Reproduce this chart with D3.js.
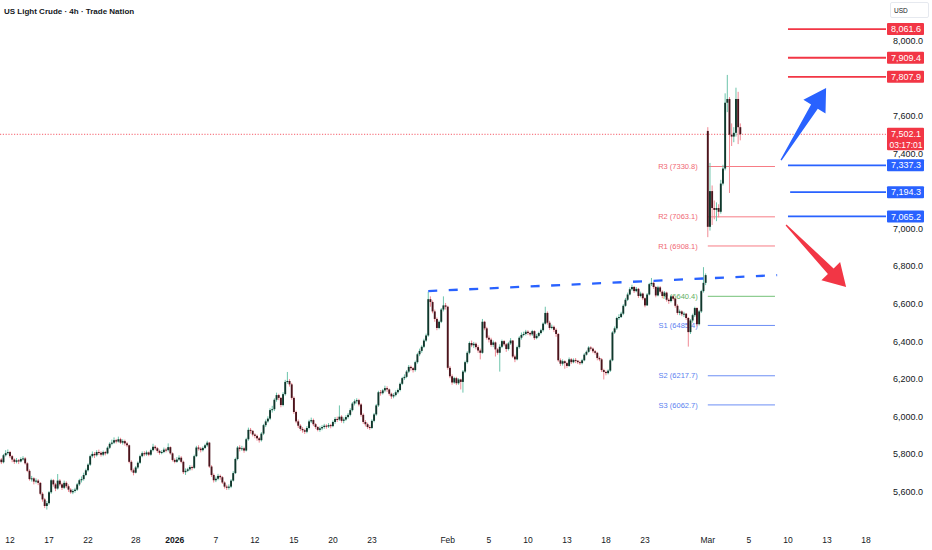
<!DOCTYPE html>
<html>
<head>
<meta charset="utf-8">
<script src="https://cdn.jsdelivr.net/npm/d3@7"></script>
<style>
  html, body { margin: 0; padding: 0; background: #fff; }
  svg { display: block; font-family: "Liberation Sans", Arial, sans-serif; }
</style>
</head>
<body>
<div id="chart"></div>
<script>
// 4h candles, one row per bar: [close, high, low] ; open = previous close,
// a 4th value is the open when the bar gaps
const dec = [
  [5760,5774,5741,5750],[5772,5785,5752],[5758,5780,5748],[5795,5802,5752],[5806,5822,5788],[5812,5826,5798],
  [5790,5818,5780],[5772,5796,5758],[5760,5778,5749],[5768,5780,5752],[5762,5775,5748],
  [5775,5784,5757],
  [5778,5790,5766],[5752,5785,5745],[5712,5758,5705],[5668,5720,5660],[5672,5685,5655],[5655,5678,5640],
  [5660,5672,5645],[5648,5668,5636],[5590,5652,5582],[5560,5598,5548],[5525,5568,5514],[5540,5552,5506],
  [5598,5605,5532],[5662,5670,5590],[5640,5668,5628],[5618,5648,5604],[5660,5695,5612],[5640,5668,5630],
  [5622,5648,5610],[5648,5660,5615],[5630,5656,5620],[5612,5640,5600],[5598,5620,5590],[5605,5615,5588],
  [5612,5622,5596],[5640,5648,5605],[5662,5670,5632],[5668,5682,5650],[5690,5702,5660],
  [5715,5724,5684],
  [5745,5752,5708],[5790,5798,5738],[5802,5815,5782],[5795,5812,5780],[5812,5822,5788],[5808,5825,5796],
  [5798,5816,5788],[5812,5820,5790],[5805,5818,5794],[5835,5842,5800],[5856,5864,5828],[5862,5878,5848],
  [5875,5890,5855],[5868,5882,5858],[5880,5894,5862],[5862,5888,5855],[5870,5880,5852],
  [5858,5878,5846],[5848,5866,5838],[5760,5852,5752],[5715,5768,5705],[5702,5724,5688],
  [5730,5738,5698],
  [5755,5762,5722],[5790,5798,5748],[5806,5815,5784],[5800,5816,5790],[5810,5820,5792],[5798,5815,5790],
  [5822,5830,5792],[5840,5856,5815],[5832,5848,5822],[5818,5838,5808],[5808,5825,5798],[5812,5822,5800],
  [5825,5836,5806],[5822,5834,5810],[5838,5858,5815],[5805,5842,5798],[5770,5810,5762]
];
const jan = [
  [5760,5778,5752],
  [5772,5785,5755],[5782,5795,5765],[5760,5790,5752],[5705,5766,5695],[5712,5725,5690],
  [5720,5728,5705],
  [5732,5742,5712],[5728,5740,5715],[5790,5798,5722],[5836,5845,5785],[5830,5848,5820],[5822,5838,5810],
  [5834,5842,5815],[5848,5856,5828],[5862,5872,5840],[5735,5866,5728],[5690,5742,5680],[5662,5698,5650],
  [5670,5682,5652],[5685,5696,5662],[5678,5692,5665],[5650,5684,5642],[5628,5656,5618],[5622,5638,5610],
  [5628,5640,5612],[5660,5668,5620],[5700,5710,5655],[5775,5782,5695],[5836,5844,5768],[5828,5848,5815],
  [5832,5845,5818],[5820,5840,5808],[5880,5888,5815],[5930,5942,5872],[5925,5940,5910],
  [5905,5928,5895],
  [5898,5912,5885],[5885,5905,5872],[5875,5892,5862],[5910,5918,5868],[5955,5962,5902],[5975,5985,5945],
  [5990,6002,5968],[6035,6045,5982],[6040,6058,6022],[6090,6098,6030],[6115,6128,6080],[6100,6122,6088],
  [6062,6105,6050],[6120,6130,6055],[6185,6196,6112],[6190,6238,6175],[6172,6200,6160],[6100,6180,6090],
  [6025,6108,6015],[5975,6032,5965],[5952,5985,5940],[5935,5960,5925],[5928,5945,5915],[5920,5936,5908],
  [5940,5950,5912],[5975,5984,5932],[5982,5995,5966],[5960,5990,5950],[5945,5966,5935],
  [5930,5950,5922],
  [5938,5948,5920],[5945,5955,5928],[5952,5962,5935],[5948,5960,5936],[5955,5966,5940],[5950,5962,5938],
  [5972,5980,5944],[5988,5998,5962],[5985,6000,5972],[6000,6060,5978],[5978,6008,5968],[5985,5996,5965],
  [5998,6008,5978],[6010,6020,5990],[6035,6045,6002],[6070,6078,6028],[6082,6092,6060],[6088,6098,6070],
  [6065,6095,6055],[6010,6072,6000],[5972,6018,5962],[5960,5982,5948],[5945,5968,5935],[5940,5955,5930],
  [5978,5986,5935],[6012,6020,5970],[6060,6068,6005],[6130,6138,6052],[6125,6142,6112],
  [6140,6148,6118],
  [6152,6165,6130],[6145,6162,6132],[6122,6150,6112],[6108,6128,6095],[6115,6125,6098],[6130,6140,6108],
  [6142,6150,6122],[6175,6182,6135],[6205,6212,6168],[6212,6225,6195],[6240,6248,6205],[6265,6275,6232],
  [6258,6272,6245],[6248,6265,6235],[6290,6298,6240],[6332,6340,6282],[6350,6362,6322],[6372,6380,6340],
  [6405,6415,6365],[6432,6442,6398],[6625,6665,6425],[6610,6640,6585],[6560,6618,6550],[6520,6570,6505],
  [6472,6528,6460],[6505,6512,6465],[6570,6578,6498],[6592,6640,6560],[6585,6605,6570]
];
const feb = [
  [6260,6590,6250],
  [6215,6270,6205],[6182,6225,6170],[6205,6212,6175],[6178,6212,6168],[6198,6205,6170],[6185,6202,6145],
  [6240,6248,6128],[6290,6298,6232],[6340,6348,6282],[6392,6400,6332],[6380,6405,6370],[6388,6398,6365],
  [6370,6395,6358],[6352,6380,6340],[6340,6362,6305],[6505,6520,6335],[6470,6510,6460],[6420,6478,6410],
  [6410,6432,6395],[6382,6420,6372],[6395,6405,6370],[6358,6400,6320],[6340,6365,6330],[6372,6385,6240],
  [6402,6410,6365],[6385,6408,6375],[6360,6392,6345],[6390,6398,6352],[6405,6418,6382],
  [6320,6408,6312],
  [6305,6330,6290],[6370,6378,6300],[6420,6428,6362],[6435,6448,6410],[6440,6452,6428],[6452,6462,6432],
  [6445,6460,6435],[6438,6452,6428],[6455,6462,6430],[6418,6460,6408],[6430,6440,6412],[6445,6452,6422],
  [6460,6468,6438],[6495,6502,6452],[6552,6585,6490],[6500,6560,6490],[6472,6510,6462],[6478,6490,6465],
  [6462,6485,6450],[6440,6470,6425],[6300,6445,6292],[6282,6310,6270],[6295,6305,6272],[6285,6300,6255],
  [6270,6292,6260],[6305,6315,6265],[6290,6312,6280],[6302,6310,6284],[6298,6312,6285],
  [6290,6300,6280],
  [6285,6298,6275],[6300,6308,6278],[6330,6338,6295],[6345,6352,6325],[6368,6375,6340],[6362,6375,6352],
  [6348,6368,6338],[6340,6355,6330],[6312,6345,6300],[6305,6320,6295],[6248,6312,6238],[6238,6255,6198],
  [6232,6245,6220],[6245,6252,6225],[6300,6308,6238],[6448,6455,6295],[6470,6480,6440],[6525,6532,6462],
  [6530,6545,6515],[6548,6558,6525],[6590,6598,6540],[6622,6632,6585],[6650,6660,6615],[6678,6688,6645],
  [6690,6702,6670],[6668,6695,6658],[6680,6690,6662],[6642,6685,6632],[6655,6665,6635],
  [6630,6660,6620],
  [6592,6635,6582],[6650,6658,6590],[6705,6712,6645],[6712,6738,6695],[6690,6718,6680],[6645,6695,6635],
  [6688,6696,6640],[6665,6695,6655],[6642,6672,6630],[6660,6668,6635],[6622,6665,6612],[6615,6630,6600],
  [6640,6648,6608],[6628,6645,6618],[6590,6632,6580],[6552,6598,6542],[6560,6570,6540],[6545,6566,6535],
  [6548,6558,6530],[6525,6552,6515],[6450,6530,6372.7],[6512,6520,6440],[6540,6548,6500],[6578,6585,6530],
  [6492,6582,6480],[6560,6568,6485],[6668,6675,6552],[6712,6795.4,6660],[6753.1,6762,6700]
];
const mar = [
  [7010,7540,6955,7520],
  [7200,7350,6990],[7110,7230,7020],[7100,7150,7050],[7110,7140,7040],[7090,7130,7060],[7240,7260,7080],
  [7320,7340,7230],[7670,7720,7310],[7690,7818,7620],[7500,7700,7190],[7490,7560,7440],[7510,7540,7460],
  [7690,7750,7490],[7540,7728,7450],[7502.1,7560,7470]
];

// trading calendar: bars per day (Sun evening 1, Fri 5, other weekdays 6)
const sessionOverrides = {"2025-12-24": 5, "2025-12-25": 0, "2025-12-31": 5, "2026-01-01": 1};
const tickDates = ["2025-12-12","2025-12-17","2025-12-22","2025-12-28","2026-01-01","2026-01-07",
  "2026-01-12","2026-01-15","2026-01-20","2026-01-23","2026-02-01","2026-02-05","2026-02-10",
  "2026-02-13","2026-02-18","2026-02-23","2026-03-01","2026-03-05","2026-03-10","2026-03-13","2026-03-18"];
const priceTicks = [5600, 5800, 6000, 6200, 6400, 6600, 6800, 7000, 7200, 7400, 7600, 7800, 8000];

// weekly pivots
const pivots = [["R3", 7330.8], ["R2", 7063.1], ["R1", 6908.1], ["P", 6640.4],
                ["S1", 6485.4], ["S2", 6217.7], ["S3", 6062.7]];
const pivotBars = [328, 359];
// drawn levels [price, first bar]
const levelsUp = [[8061.6, 365], [7909.4, 365], [7807.9, 365]];
const levelsDown = [[7337.3, 365], [7194.3, 366], [7065.2, 365]];
const lastPrice = 7502.1, countdown = "03:17:01";
// trend line and arrows [bar, price]
const trendLine = [[199, 6668], [360, 6753]];
const arrowUp = [[361.8, 7365], [382.6, 7748]];
const arrowDown = [[364.1, 7020], [391.8, 6690]];

const W = 932, H = 550, plotRight = 886;
const red = "#f23645", blue = "#2962ff";

const svg = d3.select("#chart").append("svg")
  .attr("width", W).attr("height", H);

// calendar -> bar index of each day's first bar
const fmt = d3.timeFormat("%Y-%m-%d");
const dayStart = {};
let nBars = 0;
d3.timeDays(new Date(2025, 11, 11), new Date(2026, 2, 21)).forEach(d => {
  const k = fmt(d), wd = d.getDay();
  let c = wd === 6 ? 0 : wd === 0 ? 1 : wd === 5 ? 5 : 6;
  if (k in sessionOverrides) c = sessionOverrides[k];
  if (c > 0) dayStart[k] = nBars;
  nBars += c;
});

const x = d3.scaleLinear().domain([0, 401]).range([-3, 866]);
const y = d3.scaleLinear().domain([8000, 5600]).range([40.7, 491.9]);

let prevClose = null;
const candles = dec.concat(jan, feb, mar).map((r, i) => {
  const o = r.length > 3 ? r[3] : prevClose;
  prevClose = r[0];
  return {i: i, o: o, h: r[1], l: r[2], c: r[0]};
});

// pivot lines + labels (under the candles)
const pv = svg.append("g");
pv.selectAll("line").data(pivots).enter().append("line")
  .attr("x1", x(pivotBars[0])).attr("x2", x(pivotBars[1]))
  .attr("y1", d => y(d[1])).attr("y2", d => y(d[1]))
  .attr("stroke", d => d[0][0] === "R" ? "#f77c85" : d[0] === "P" ? "#74c177" : "#6c8ef5")
  .attr("stroke-width", 1);
pv.selectAll("text").data(pivots).enter().append("text")
  .attr("x", x(pivotBars[0]) - 10).attr("y", d => y(d[1]))
  .attr("dy", "0.35em").attr("text-anchor", "end")
  .attr("font-size", 7.5)
  .attr("fill", d => d[0][0] === "R" ? "#f06873" : d[0] === "P" ? "#5fb063" : "#5a7ff0")
  .text(d => d[0] + " (" + d[1].toFixed(1) + ")");

// last price dotted line
svg.append("line")
  .attr("x1", 0).attr("x2", plotRight)
  .attr("y1", y(lastPrice)).attr("y2", y(lastPrice))
  .attr("stroke", red).attr("stroke-width", 0.8)
  .attr("stroke-dasharray", "1.2 1.6");

// candles
const cg = svg.append("g");
cg.selectAll("line").data(candles).enter().append("line")
  .attr("x1", d => x(d.i)).attr("x2", d => x(d.i))
  .attr("y1", d => y(d.h)).attr("y2", d => y(d.l))
  .attr("stroke", d => d.c >= d.o ? "#6cc4ab" : "#f08a95")
  .attr("stroke-width", 1);
cg.selectAll("rect").data(candles).enter().append("rect")
  .attr("x", d => x(d.i) - 0.95).attr("width", 1.9)
  .attr("y", d => y(Math.max(d.o, d.c)))
  .attr("height", d => Math.max(1, Math.abs(y(d.o) - y(d.c))))
  .attr("fill", d => d.c >= d.o ? "#10372c" : "#4a141c");

// dashed trend line
svg.append("line")
  .attr("x1", x(trendLine[0][0])).attr("y1", y(trendLine[0][1]))
  .attr("x2", x(trendLine[1][0])).attr("y2", y(trendLine[1][1]))
  .attr("stroke", blue).attr("stroke-width", 2.3)
  .attr("stroke-dasharray", "9 11.5");

// horizontal levels
const levels = levelsUp.map(d => ({p: d[0], b: d[1], col: red}))
  .concat(levelsDown.map(d => ({p: d[0], b: d[1], col: blue})));
svg.append("g").selectAll("line").data(levels).enter().append("line")
  .attr("x1", d => x(d.b)).attr("x2", plotRight)
  .attr("y1", d => y(d.p)).attr("y2", d => y(d.p))
  .attr("stroke", d => d.col).attr("stroke-width", 1.8);

// arrows
function arrowPath(a, b) {
  const dx = b[0] - a[0], dy = b[1] - a[1], L = Math.hypot(dx, dy);
  const ux = dx / L, uy = dy / L, nx = -uy, ny = ux;
  const headLen = 22, headHalf = 13, neck = 4, tail = 0.6;
  const bx = b[0] - ux * headLen, by = b[1] - uy * headLen;
  const pts = [
    [a[0] + nx * tail, a[1] + ny * tail],
    [bx + nx * neck, by + ny * neck],
    [bx + nx * headHalf, by + ny * headHalf],
    b,
    [bx - nx * headHalf, by - ny * headHalf],
    [bx - nx * neck, by - ny * neck],
    [a[0] - nx * tail, a[1] - ny * tail]
  ];
  return "M" + pts.map(p => p[0].toFixed(1) + "," + p[1].toFixed(1)).join("L") + "Z";
}
[[arrowUp, blue], [arrowDown, red]].forEach(([ar, col]) => {
  svg.append("path")
    .attr("d", arrowPath([x(ar[0][0]), y(ar[0][1])], [x(ar[1][0]), y(ar[1][1])]))
    .attr("fill", col);
});

// price axis labels, hidden where a price tag sits on them
const fmtPrice = d3.format(",.1f");
const tagPrices = levels.map(d => d.p).concat([lastPrice]);
const visibleTicks = priceTicks.filter(t => tagPrices.every(p => Math.abs(y(t) - y(p)) > 8));
svg.append("g").selectAll("text").data(visibleTicks).enter().append("text")
  .attr("x", 893).attr("y", d => y(d)).attr("dy", "0.35em")
  .attr("font-size", 9).attr("fill", "#131722")
  .text(d => fmtPrice(d));

// price tags
const tags = svg.append("g");
levels.forEach(d => {
  tags.append("rect").attr("x", 887).attr("y", y(d.p) - 6).attr("width", 37).attr("height", 12)
    .attr("rx", 1).attr("fill", d.col);
  tags.append("text").attr("x", 906).attr("y", y(d.p)).attr("dy", "0.35em")
    .attr("text-anchor", "middle").attr("font-size", 9).attr("fill", "#fff")
    .text(fmtPrice(d.p));
});
tags.append("rect").attr("x", 887).attr("y", y(lastPrice) - 6.5).attr("width", 37).attr("height", 22.5)
  .attr("rx", 1).attr("fill", red);
tags.append("text").attr("x", 906).attr("y", y(lastPrice)).attr("dy", "0.35em")
  .attr("text-anchor", "middle").attr("font-size", 9).attr("fill", "#fff")
  .text(fmtPrice(lastPrice));
tags.append("text").attr("x", 906).attr("y", y(lastPrice) + 10.5).attr("dy", "0.35em")
  .attr("text-anchor", "middle").attr("font-size", 8.5).attr("fill", "#fff")
  .text(countdown);

// currency box
svg.append("rect").attr("x", 890.5).attr("y", 2.5).attr("width", 38).attr("height", 15)
  .attr("fill", "#fff").attr("stroke", "#e0e3eb").attr("stroke-width", 0.8).attr("rx", 1.5);
svg.append("text").attr("x", 894).attr("y", 13).attr("font-size", 6.5).attr("fill", "#131722").text("USD");

// time axis labels
const parse = d3.timeParse("%Y-%m-%d");
const fmtDay = d3.timeFormat("%-d"), fmtMonth = d3.timeFormat("%b"), fmtYear = d3.timeFormat("%Y");
svg.append("g").selectAll("text").data(tickDates).enter().append("text")
  .attr("x", d => x(dayStart[d])).attr("y", 542.5)
  .attr("text-anchor", "middle").attr("font-size", 8.5).attr("fill", "#131722")
  .attr("font-weight", d => parse(d).getMonth() === 0 && parse(d).getDate() === 1 ? "bold" : "normal")
  .text(d => {
    const t = parse(d);
    if (t.getDate() !== 1) return fmtDay(t);
    return t.getMonth() === 0 ? fmtYear(t) : fmtMonth(t);
  });

// title
svg.append("text").attr("x", 4).attr("y", 13.5)
  .attr("font-size", 8).attr("font-weight", 600).attr("fill", "#131722")
  .text("US Light Crude · 4h · Trade Nation");
</script>
</body>
</html>
